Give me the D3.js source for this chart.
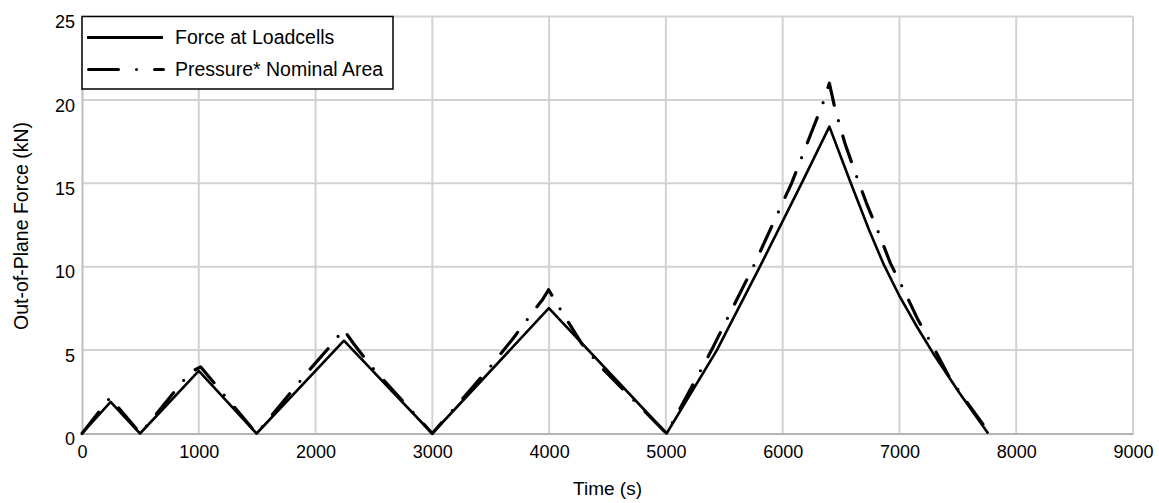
<!DOCTYPE html>
<html>
<head>
<meta charset="utf-8">
<script src="https://cdn.jsdelivr.net/npm/d3@7"></script>
<style>
  html, body { margin: 0; padding: 0; background: #fff; }
  svg { display: block; font-family: "Liberation Sans", Arial, sans-serif; }
</style>
</head>
<body>
<svg id="chart" width="1159" height="503"></svg>
<script>
// ---- data ----
const xTicks = [0, 1000, 2000, 3000, 4000, 5000, 6000, 7000, 8000, 9000];
const yTicks = [0, 5, 10, 15, 20, 25];
const seriesNames = ["Force at Loadcells", "Pressure* Nominal Area"];

const forceTime  = [0, 245, 497, 1000, 1495, 2243, 2999, 3998, 5006, 5437, 5805, 6162, 6400, 6584, 6740, 6861, 7003, 7150, 7289, 7517, 7760];
const forceValue = [0, 1.9, 0, 3.75, 0, 5.57, 0, 7.51, 0, 5.0, 10.0, 15.0, 18.4, 15.0, 12.2, 10.2, 8.2, 6.4, 4.8, 2.4, 0];

const pressureTime  = [0, 240, 500, 925, 1015, 1182, 1495, 1952, 2166, 2237, 2323, 2480, 2999, 3350, 3521, 3693, 3864, 3941, 3995, 4135, 4278, 4449, 5006,
                       5391, 5748, 6076, 6347, 6400, 6447, 6533, 6618, 6718, 6818, 6923, 7038, 7160, 7289, 7417, 7545, 7772];
const pressureValue = [0, 2.15, 0, 3.65, 4.0, 2.6, 0, 3.85, 5.55, 6.27, 5.41, 4.0, 0, 2.81, 4.21, 5.71, 7.31, 8.0, 8.62, 7.0, 5.4, 3.95, 0,
                       5.0, 10.0, 15.0, 19.85, 21.0, 19.5, 17.4, 15.7, 13.8, 12.1, 10.2, 8.6, 6.8, 5.2, 3.5, 2.2, 0];

// ---- layout ----
const W = 1159, H = 503;
const margin = { left: 82, right: 26, top: 16.5, bottom: 69.5 };
const iw = W - margin.left - margin.right;
const ih = H - margin.top - margin.bottom;

const svg = d3.select("#chart");
const g = svg.append("g").attr("transform", `translate(${margin.left},${margin.top})`);

const x = d3.scaleLinear().domain([0, 9000]).range([0, iw]);
const y = d3.scaleLinear().domain([0, 25]).range([ih, 0]);

// gridlines
g.append("g").selectAll("line.v").data(xTicks.slice(1)).join("line")
  .attr("x1", d => x(d)).attr("x2", d => x(d)).attr("y1", 0).attr("y2", ih)
  .attr("stroke", "#d2d2d2").attr("stroke-width", 2);
g.append("g").selectAll("line.h").data(yTicks.slice(1)).join("line")
  .attr("x1", 0).attr("x2", iw).attr("y1", d => y(d)).attr("y2", d => y(d))
  .attr("stroke", "#d2d2d2").attr("stroke-width", 2);

// axes
const xAxis = d3.axisBottom(x).tickValues(xTicks).tickSize(0).tickPadding(12).tickFormat(d3.format("d"));
const yAxis = d3.axisLeft(y).tickValues(yTicks).tickSize(0).tickPadding(7).tickFormat(d3.format("d"));

const gx = g.append("g").attr("transform", `translate(0,${ih})`).call(xAxis);
gx.select(".domain").attr("stroke", "#b4b4b4").attr("stroke-width", 2);
gx.selectAll("text").attr("font-size", 18).attr("fill", "#000")
  .attr("font-family", "Liberation Sans, Arial, sans-serif");

const gy = g.append("g").call(yAxis);
gy.select(".domain").attr("stroke", "#bdbdbd").attr("stroke-width", 2);
gy.selectAll("text").attr("font-size", 18).attr("fill", "#000").attr("dy", "0.62em")
  .attr("font-family", "Liberation Sans, Arial, sans-serif");

// axis titles
svg.append("text").attr("x", margin.left + iw / 2).attr("y", 495)
  .attr("text-anchor", "middle").attr("font-size", 19).text("Time (s)");
svg.append("text")
  .attr("transform", `translate(28,226) rotate(-90)`)
  .attr("text-anchor", "middle").attr("font-size", 19.5).text("Out-of-Plane Force (kN)");

// lines
const line = d3.line().x(d => x(d[0])).y(d => y(d[1]));
const forceData = forceTime.map((t, i) => [t, forceValue[i]]);
const pressureData = pressureTime.map((t, i) => [t, pressureValue[i]]);

g.append("path").datum(forceData).attr("d", line)
  .attr("fill", "none").attr("stroke", "#000").attr("stroke-width", 2.6)
  .attr("stroke-linejoin", "round");
g.append("path").datum(pressureData).attr("d", line)
  .attr("fill", "none").attr("stroke", "#000").attr("stroke-width", 3.2)
  .attr("stroke-linecap", "round").attr("stroke-linejoin", "round")
  .attr("stroke-dasharray", "27,16,0,16");

// legend
const lg = svg.append("g");
lg.append("rect").attr("x", 82).attr("y", 16.5).attr("width", 311).attr("height", 72.5)
  .attr("fill", "#fff").attr("stroke", "#000").attr("stroke-width", 1.5);
lg.append("line").attr("x1", 87).attr("x2", 163).attr("y1", 37.5).attr("y2", 37.5)
  .attr("stroke", "#000").attr("stroke-width", 3);
lg.append("line").attr("x1", 88.5).attr("x2", 163.5).attr("y1", 69.5).attr("y2", 69.5)
  .attr("stroke", "#000").attr("stroke-width", 3).attr("stroke-linecap", "round")
  .attr("stroke-dasharray", "30,18,0,18");
lg.append("text").attr("x", 175).attr("y", 43.5).attr("font-size", 19.5).text(seriesNames[0]);
lg.append("text").attr("x", 175).attr("y", 75.5).attr("font-size", 19.5).text(seriesNames[1]);
</script>
</body>
</html>
